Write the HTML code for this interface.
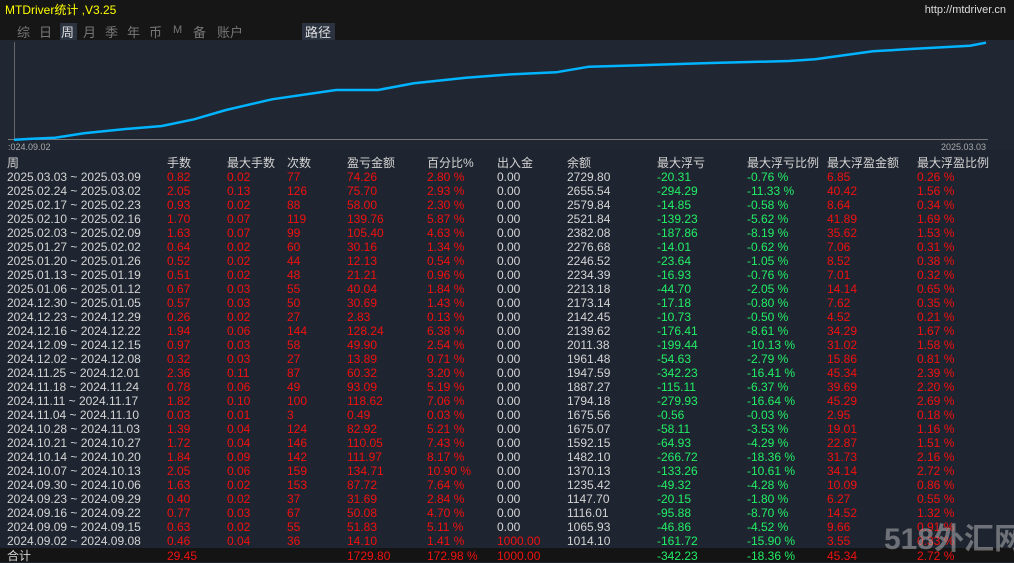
<!DOCTYPE html>
<html><head><meta charset="utf-8"><style>
body{margin:0;width:1014px;height:562px;background:#1f2530;overflow:hidden;font-family:"Liberation Sans","Noto Sans CJK SC",sans-serif;font-size:12px;position:relative}
.top{position:absolute;left:0;top:0;width:1014px;height:40px;background:#161616}
.t{position:absolute;white-space:nowrap;line-height:14px}
.w{color:#d4d4d4}.r{color:#f01010}.g{color:#22ee66}
.tab{position:absolute;top:22px;color:#777;font-size:13px}
</style></head><body>
<div class="top"></div>
<div class="t" style="left:5px;top:3px;color:#ffff00;font-size:12px">MTDriver统计 ,V3.25</div>
<div class="t" style="right:8px;top:3px;color:#ddd;font-size:11px">http://mtdriver.cn</div>
<div class="t" style="left:60px;top:23px;width:17px;height:17px;background:#2b3340"></div>
<div class="t" style="left:302px;top:23px;width:33px;height:17px;background:#2b3340"></div>
<div class="tab" style="left:17px">综</div><div class="tab" style="left:39px">日</div><div class="tab" style="left:61px;color:#ddd">周</div><div class="tab" style="left:83px">月</div><div class="tab" style="left:105px">季</div><div class="tab" style="left:127px">年</div><div class="tab" style="left:149px">币</div><div class="tab" style="left:173px;font-size:11px;top:24px">M</div><div class="tab" style="left:193px">备</div><div class="tab" style="left:217px">账户</div><div class="tab" style="left:305px;color:#ddd">路径</div>
<svg style="position:absolute;left:0;top:0" width="1014" height="160">
<rect x="0" y="40" width="1014" height="110" fill="#202733"/>
<line x1="14.5" y1="42" x2="14.5" y2="140" stroke="#666"/>
<line x1="8" y1="139.5" x2="988" y2="139.5" stroke="#777"/>
<polyline fill="none" stroke="#00b4ff" stroke-width="2.5" points="14,139.7 32,138.7 55,137.7 84,133.3 129,128.7 162,126 194,119.3 226,110 272,99.3 336,90 378,90 414,83.3 466,77.7 505,74.7 556,72.3 589,66.7 640,65.3 711,63 789,61 815,59.3 873,51.3 906,49.3 970,45.7 986,42.7"/>
<text x="8" y="150" fill="#aaa" font-size="9" font-family="Liberation Sans">:024.09.02</text>
<text x="941" y="150" fill="#aaa" font-size="9" font-family="Liberation Sans">2025.03.03</text>
</svg>
<div class="t" style="left:0;top:548px;width:1014px;height:14px;background:#141414"></div>
<div id="tb"></div>
<script>
const cols=[7,167,227,287,347,427,497,567,657,747,827,917];
const hd=["周","手数","最大手数","次数","盈亏金额","百分比%","出入金","余额","最大浮亏","最大浮亏比例","最大浮盈金额","最大浮盈比例"];
const rows=`2025.03.03 ~ 2025.03.09|0.82|0.02|77|74.26|2.80 %|0.00|2729.80|-20.31|-0.76 %|6.85|0.26 %
2025.02.24 ~ 2025.03.02|2.05|0.13|126|75.70|2.93 %|0.00|2655.54|-294.29|-11.33 %|40.42|1.56 %
2025.02.17 ~ 2025.02.23|0.93|0.02|88|58.00|2.30 %|0.00|2579.84|-14.85|-0.58 %|8.64|0.34 %
2025.02.10 ~ 2025.02.16|1.70|0.07|119|139.76|5.87 %|0.00|2521.84|-139.23|-5.62 %|41.89|1.69 %
2025.02.03 ~ 2025.02.09|1.63|0.07|99|105.40|4.63 %|0.00|2382.08|-187.86|-8.19 %|35.62|1.53 %
2025.01.27 ~ 2025.02.02|0.64|0.02|60|30.16|1.34 %|0.00|2276.68|-14.01|-0.62 %|7.06|0.31 %
2025.01.20 ~ 2025.01.26|0.52|0.02|44|12.13|0.54 %|0.00|2246.52|-23.64|-1.05 %|8.52|0.38 %
2025.01.13 ~ 2025.01.19|0.51|0.02|48|21.21|0.96 %|0.00|2234.39|-16.93|-0.76 %|7.01|0.32 %
2025.01.06 ~ 2025.01.12|0.67|0.03|55|40.04|1.84 %|0.00|2213.18|-44.70|-2.05 %|14.14|0.65 %
2024.12.30 ~ 2025.01.05|0.57|0.03|50|30.69|1.43 %|0.00|2173.14|-17.18|-0.80 %|7.62|0.35 %
2024.12.23 ~ 2024.12.29|0.26|0.02|27|2.83|0.13 %|0.00|2142.45|-10.73|-0.50 %|4.52|0.21 %
2024.12.16 ~ 2024.12.22|1.94|0.06|144|128.24|6.38 %|0.00|2139.62|-176.41|-8.61 %|34.29|1.67 %
2024.12.09 ~ 2024.12.15|0.97|0.03|58|49.90|2.54 %|0.00|2011.38|-199.44|-10.13 %|31.02|1.58 %
2024.12.02 ~ 2024.12.08|0.32|0.03|27|13.89|0.71 %|0.00|1961.48|-54.63|-2.79 %|15.86|0.81 %
2024.11.25 ~ 2024.12.01|2.36|0.11|87|60.32|3.20 %|0.00|1947.59|-342.23|-16.41 %|45.34|2.39 %
2024.11.18 ~ 2024.11.24|0.78|0.06|49|93.09|5.19 %|0.00|1887.27|-115.11|-6.37 %|39.69|2.20 %
2024.11.11 ~ 2024.11.17|1.82|0.10|100|118.62|7.06 %|0.00|1794.18|-279.93|-16.64 %|45.29|2.69 %
2024.11.04 ~ 2024.11.10|0.03|0.01|3|0.49|0.03 %|0.00|1675.56|-0.56|-0.03 %|2.95|0.18 %
2024.10.28 ~ 2024.11.03|1.39|0.04|124|82.92|5.21 %|0.00|1675.07|-58.11|-3.53 %|19.01|1.16 %
2024.10.21 ~ 2024.10.27|1.72|0.04|146|110.05|7.43 %|0.00|1592.15|-64.93|-4.29 %|22.87|1.51 %
2024.10.14 ~ 2024.10.20|1.84|0.09|142|111.97|8.17 %|0.00|1482.10|-266.72|-18.36 %|31.73|2.16 %
2024.10.07 ~ 2024.10.13|2.05|0.06|159|134.71|10.90 %|0.00|1370.13|-133.26|-10.61 %|34.14|2.72 %
2024.09.30 ~ 2024.10.06|1.63|0.02|153|87.72|7.64 %|0.00|1235.42|-49.32|-4.28 %|10.09|0.86 %
2024.09.23 ~ 2024.09.29|0.40|0.02|37|31.69|2.84 %|0.00|1147.70|-20.15|-1.80 %|6.27|0.55 %
2024.09.16 ~ 2024.09.22|0.77|0.03|67|50.08|4.70 %|0.00|1116.01|-95.88|-8.70 %|14.52|1.32 %
2024.09.09 ~ 2024.09.15|0.63|0.02|55|51.83|5.11 %|0.00|1065.93|-46.86|-4.52 %|9.66|0.91 %
2024.09.02 ~ 2024.09.08|0.46|0.04|36|14.10|1.41 %|1000.00|1014.10|-161.72|-15.90 %|3.55|0.33 %
合计|29.45||1729.80|172.98 %|1000.00||-342.23|-18.36 %|45.34|2.72 %`.split("\n");
let h="";
hd.forEach((t,i)=>h+=`<div class="t w" style="left:${cols[i]}px;top:156px;font-size:12px">${t}</div>`);
rows.forEach((l,ri)=>{
 let c=l.split("|");
 if(c[0]=="合计"){c=["合计",c[1],"","",c[3],c[4],c[5],"",c[7],c[8],c[9],c[10]];}
 const y=ri<27?170+ri*14:549;
 c.forEach((t,i)=>{
  let cl="w";
  if(i>=1&&i<=5)cl="r";
  if(i==6)cl=(t=="0.00")?"w":"r";
  if(i==8||i==9)cl="g";
  if(i>=10)cl="r";
  h+=`<div class="t ${cl}" style="left:${cols[i]}px;top:${y}px">${t}</div>`;
 });
});
document.getElementById("tb").innerHTML=h;
</script>
<div class="t" style="left:884px;top:522px;color:rgba(190,190,190,.5);font-size:30px;line-height:36px;font-weight:bold">518外汇网</div>
</body></html>
